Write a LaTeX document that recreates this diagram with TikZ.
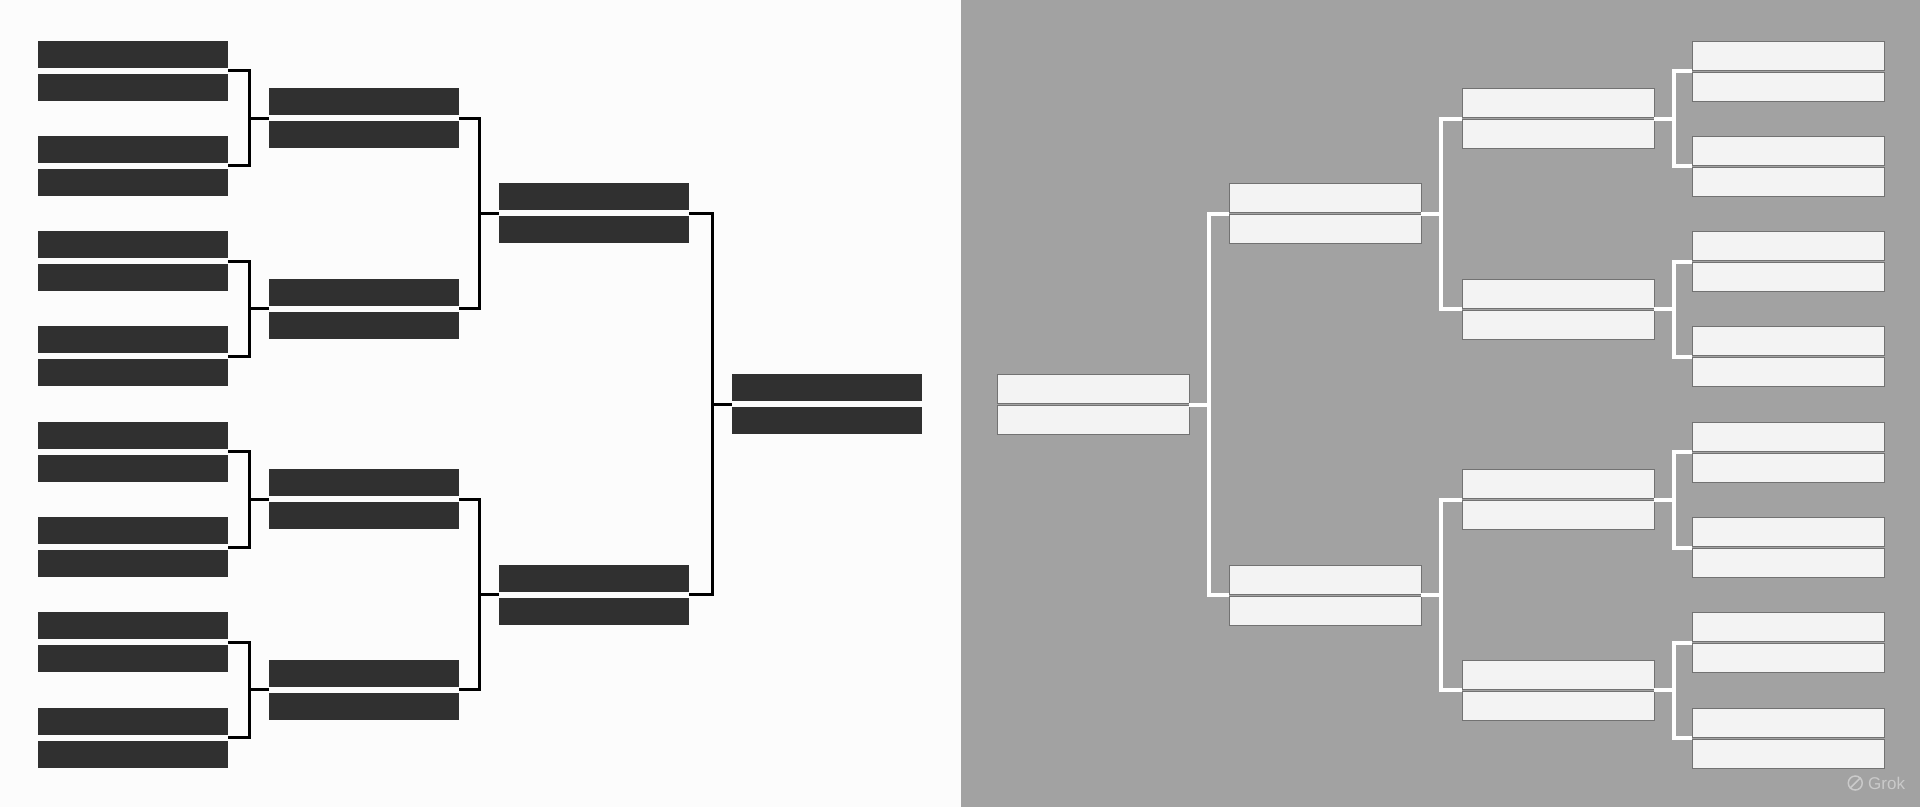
\documentclass[tikz,border=0pt]{standalone}
\usepackage{fontspec}
\setsansfont{Liberation Sans}
\usetikzlibrary{
  positioning,
}
\definecolor{paper}{HTML}{FCFCFC}
\definecolor{panel}{HTML}{A2A2A2}
\definecolor{ink}{HTML}{303030}
\definecolor{chalk}{HTML}{F3F3F3}
\definecolor{seam}{HTML}{727272}
\definecolor{wmark}{HTML}{CACACA}
\tikzset{
  lbar/.style={rectangle, fill=ink, minimum width=190pt, minimum height=27pt, inner sep=0pt, outer sep=0pt},
  rbar/.style={rectangle, fill=chalk, draw=seam, line width=1pt, minimum width=192pt, minimum height=29pt, inner sep=0pt, outer sep=0pt},
  lline/.style={draw=black, line width=3pt},
  rline/.style={draw=white, line width=4pt},
  wmtext/.style={text=wmark, font=\sffamily\fontsize{17}{19}\selectfont, inner sep=0pt},
}

\begin{document}
\begin{tikzpicture}[x=1pt, y=-1pt]
      \fill [paper] (0,0) rectangle (961,807);
      \fill [panel] (961,0) rectangle (1920,807);
      \useasboundingbox (0,0) rectangle (1920,807);
      % left half: black bars
      \foreach \r/\x/\n/\s in {1/38/7/1, 2/269/3/2, 3/499/1/4, 4/732/0/8} {
        \foreach \k in {0,...,\n} {
          \coordinate (L-\r-\k) at (\x, {70.5+95.3*(\s*\k+(\s-1)/2)});
          \node [lbar, above right=3pt and 0pt of L-\r-\k] (Lt-\r-\k) {};
          \node [lbar, below right=3pt and 0pt of L-\r-\k] (Lb-\r-\k) {};
        }
      }
      \foreach \r/\p/\n in {1/2/3, 2/3/1, 3/4/0} {
        \foreach \k in {0,...,\n} {
          \pgfmathtruncatemacro\ktop{2*\k}
          \pgfmathtruncatemacro\kbot{2*\k+1}
          \coordinate (LJ-\p-\k) at ([xshift=-20pt]L-\p-\k);
          \draw [lline] (Lt-\r-\ktop.east |- L-\r-\ktop) -| (LJ-\p-\k) |- (Lt-\r-\kbot.east |- L-\r-\kbot)
            (LJ-\p-\k) -- (L-\p-\k);
        }
      }
      % right half: white bars, mirrored
      \foreach \r/\x/\n/\s in {1/1692/7/1, 2/1462/3/2, 3/1229/1/4, 4/997/0/8} {
        \foreach \k in {0,...,\n} {
          \coordinate (R-\r-\k) at (\x, {71+95.3*(\s*\k+(\s-1)/2)});
          \node [rbar, above right=1pt and 0pt of R-\r-\k] (Rt-\r-\k) {};
          \node [rbar, below right=1pt and 0pt of R-\r-\k] (Rb-\r-\k) {};
        }
      }
      \foreach \r/\p/\n in {1/2/3, 2/3/1, 3/4/0} {
        \foreach \k in {0,...,\n} {
          \pgfmathtruncatemacro\ktop{2*\k}
          \pgfmathtruncatemacro\kbot{2*\k+1}
          \path (Rt-\p-\k.east |- R-\p-\k) ++(20,0) coordinate (RJ-\p-\k);
          \draw [rline] (R-\r-\ktop) -| (RJ-\p-\k) |- (R-\r-\kbot)
            (RJ-\p-\k) -- (Rt-\p-\k.east |- R-\p-\k);
        }
      }
      \node [wmtext, anchor=west] (grok) at (1868,783) {Grok};
      \node [circle, draw=wmark, line width=1.5pt, minimum size=14pt, inner sep=0pt, left=5pt of grok] (logo) {};
      \draw [wmark, line width=1.5pt] (logo.south west) -- (logo.north east);
    \end{tikzpicture}
\end{document}
